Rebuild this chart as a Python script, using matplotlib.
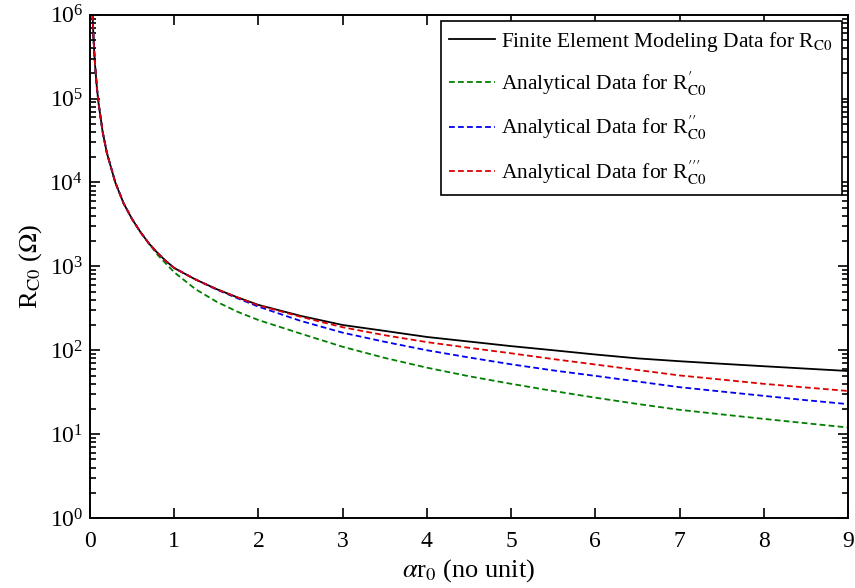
import matplotlib
matplotlib.use("Agg")
import matplotlib.pyplot as plt
from matplotlib.ticker import LogLocator, NullFormatter, FixedLocator

plt.rcParams["font.family"] = ["Liberation Serif", "DejaVu Serif"]
plt.rcParams["mathtext.fontset"] = "stix"

# alpha * r0 sample points
x = [0.03, 0.04, 0.05, 0.06, 0.08, 0.1, 0.15, 0.2, 0.3, 0.4, 0.5, 0.6, 0.7,
     0.8, 0.9, 1.0, 1.25, 1.5, 1.75, 2.0, 2.5, 3.0, 3.5, 4.0, 4.5, 5.0, 5.5,
     6.0, 6.5, 7.0, 7.5, 8.0, 8.5, 9.0]

# Finite element modeling data for R_C0 (ohm)
r_fem = [1.0e6, 5.6e5, 3.6e5, 2.5e5, 1.4e5, 9.0e4, 4.0e4, 2.25e4, 1.0e4, 5.6e3,
         3.65e3, 2.55e3, 1.87e3, 1.45e3, 1.16e3, 955, 700, 537, 427, 347, 257,
         200, 170, 144, 127, 112, 100, 89, 80, 74, 69, 64.5, 60.4, 56.6]

# Analytical R'_C0
r_a1 = [1.0e6, 5.6e5, 3.6e5, 2.5e5, 1.4e5, 9.0e4, 4.0e4, 2.25e4, 1.0e4, 5.6e3,
        3.65e3, 2.55e3, 1.87e3, 1.38e3, 1.08e3, 850, 537, 380, 288, 229, 158,
        110, 81, 62, 49, 39.8, 32.7, 27.2, 22.9, 19.5, 17.2, 15.2, 13.5, 12.0]

# Analytical R''_C0
r_a2 = [1.0e6, 5.6e5, 3.6e5, 2.5e5, 1.4e5, 9.0e4, 4.0e4, 2.25e4, 1.0e4, 5.6e3,
        3.65e3, 2.55e3, 1.87e3, 1.45e3, 1.16e3, 955, 700, 531, 417, 331, 224,
        162, 126, 100, 82, 68, 57.5, 49.5, 42.4, 36.3, 32.2, 28.6, 25.4, 22.8]

# Analytical R'''_C0
r_a3 = [1.0e6, 5.6e5, 3.6e5, 2.5e5, 1.4e5, 9.0e4, 4.0e4, 2.25e4, 1.0e4, 5.6e3,
        3.65e3, 2.55e3, 1.87e3, 1.45e3, 1.16e3, 955, 700, 537, 427, 343, 251,
        188, 151, 125, 107, 92, 78.5, 67.6, 58.2, 50.1, 44.7, 39.8, 36.0, 32.7]

labels = [
    r"Finite Element Modeling Data for R$_{\mathrm{C0}}$",
    r"Analytical Data for R$_{\mathrm{C0}}^{\prime}$",
    r"Analytical Data for R$_{\mathrm{C0}}^{\prime\prime}$",
    r"Analytical Data for R$_{\mathrm{C0}}^{\prime\prime\prime}$",
]
x_ticks = [0, 1, 2, 3, 4, 5, 6, 7, 8, 9]

fig = plt.figure(figsize=(8.55, 5.88), dpi=100)
ax = fig.add_axes([0.1053, 0.119, 0.8865, 0.856])

dash = (0, (3.2, 1.8))
ax.plot(x, r_fem, color="black", lw=1.3, ls="-", label=labels[0])
ax.plot(x, r_a1, color="#007f00", lw=1.3, ls=dash, label=labels[1])
ax.plot(x, r_a2, color="#0000ee", lw=1.3, ls=dash, label=labels[2])
ax.plot(x, r_a3, color="#dd0000", lw=1.3, ls=dash, label=labels[3])

ax.set_yscale("log")
ax.set_xlim(0, 9)
ax.set_ylim(1, 1e6)
ax.xaxis.set_major_locator(FixedLocator(x_ticks))
ax.yaxis.set_major_locator(LogLocator(base=10, numticks=10))
ax.yaxis.set_minor_locator(LogLocator(base=10, subs=range(2, 10), numticks=100))
ax.yaxis.set_minor_formatter(NullFormatter())

ax.tick_params(which="both", direction="in", top=True, right=True,
               labelsize=17, width=1.2)
ax.tick_params(which="major", length=7)
ax.tick_params(which="minor", length=4)
ax.tick_params(axis="x", which="major", pad=9)
ax.tick_params(axis="y", which="major", pad=5)
for s in ax.spines.values():
    s.set_linewidth(1.4)

ax.set_xlabel(r"$\alpha$r$_{\mathrm{0}}$ (no unit)", fontsize=19, labelpad=4)
ax.set_ylabel(r"R$_{\mathrm{C0}}$ ($\Omega$)", fontsize=19, labelpad=4)

leg = ax.legend(loc="upper right", fontsize=15.5, fancybox=False,
                edgecolor="black", framealpha=1, handlelength=2.1,
                handletextpad=0.3, borderaxespad=0.3, labelspacing=0.75,
                borderpad=0.4)
leg.get_frame().set_linewidth(1.2)

fig.savefig("out.png", dpi=100)
